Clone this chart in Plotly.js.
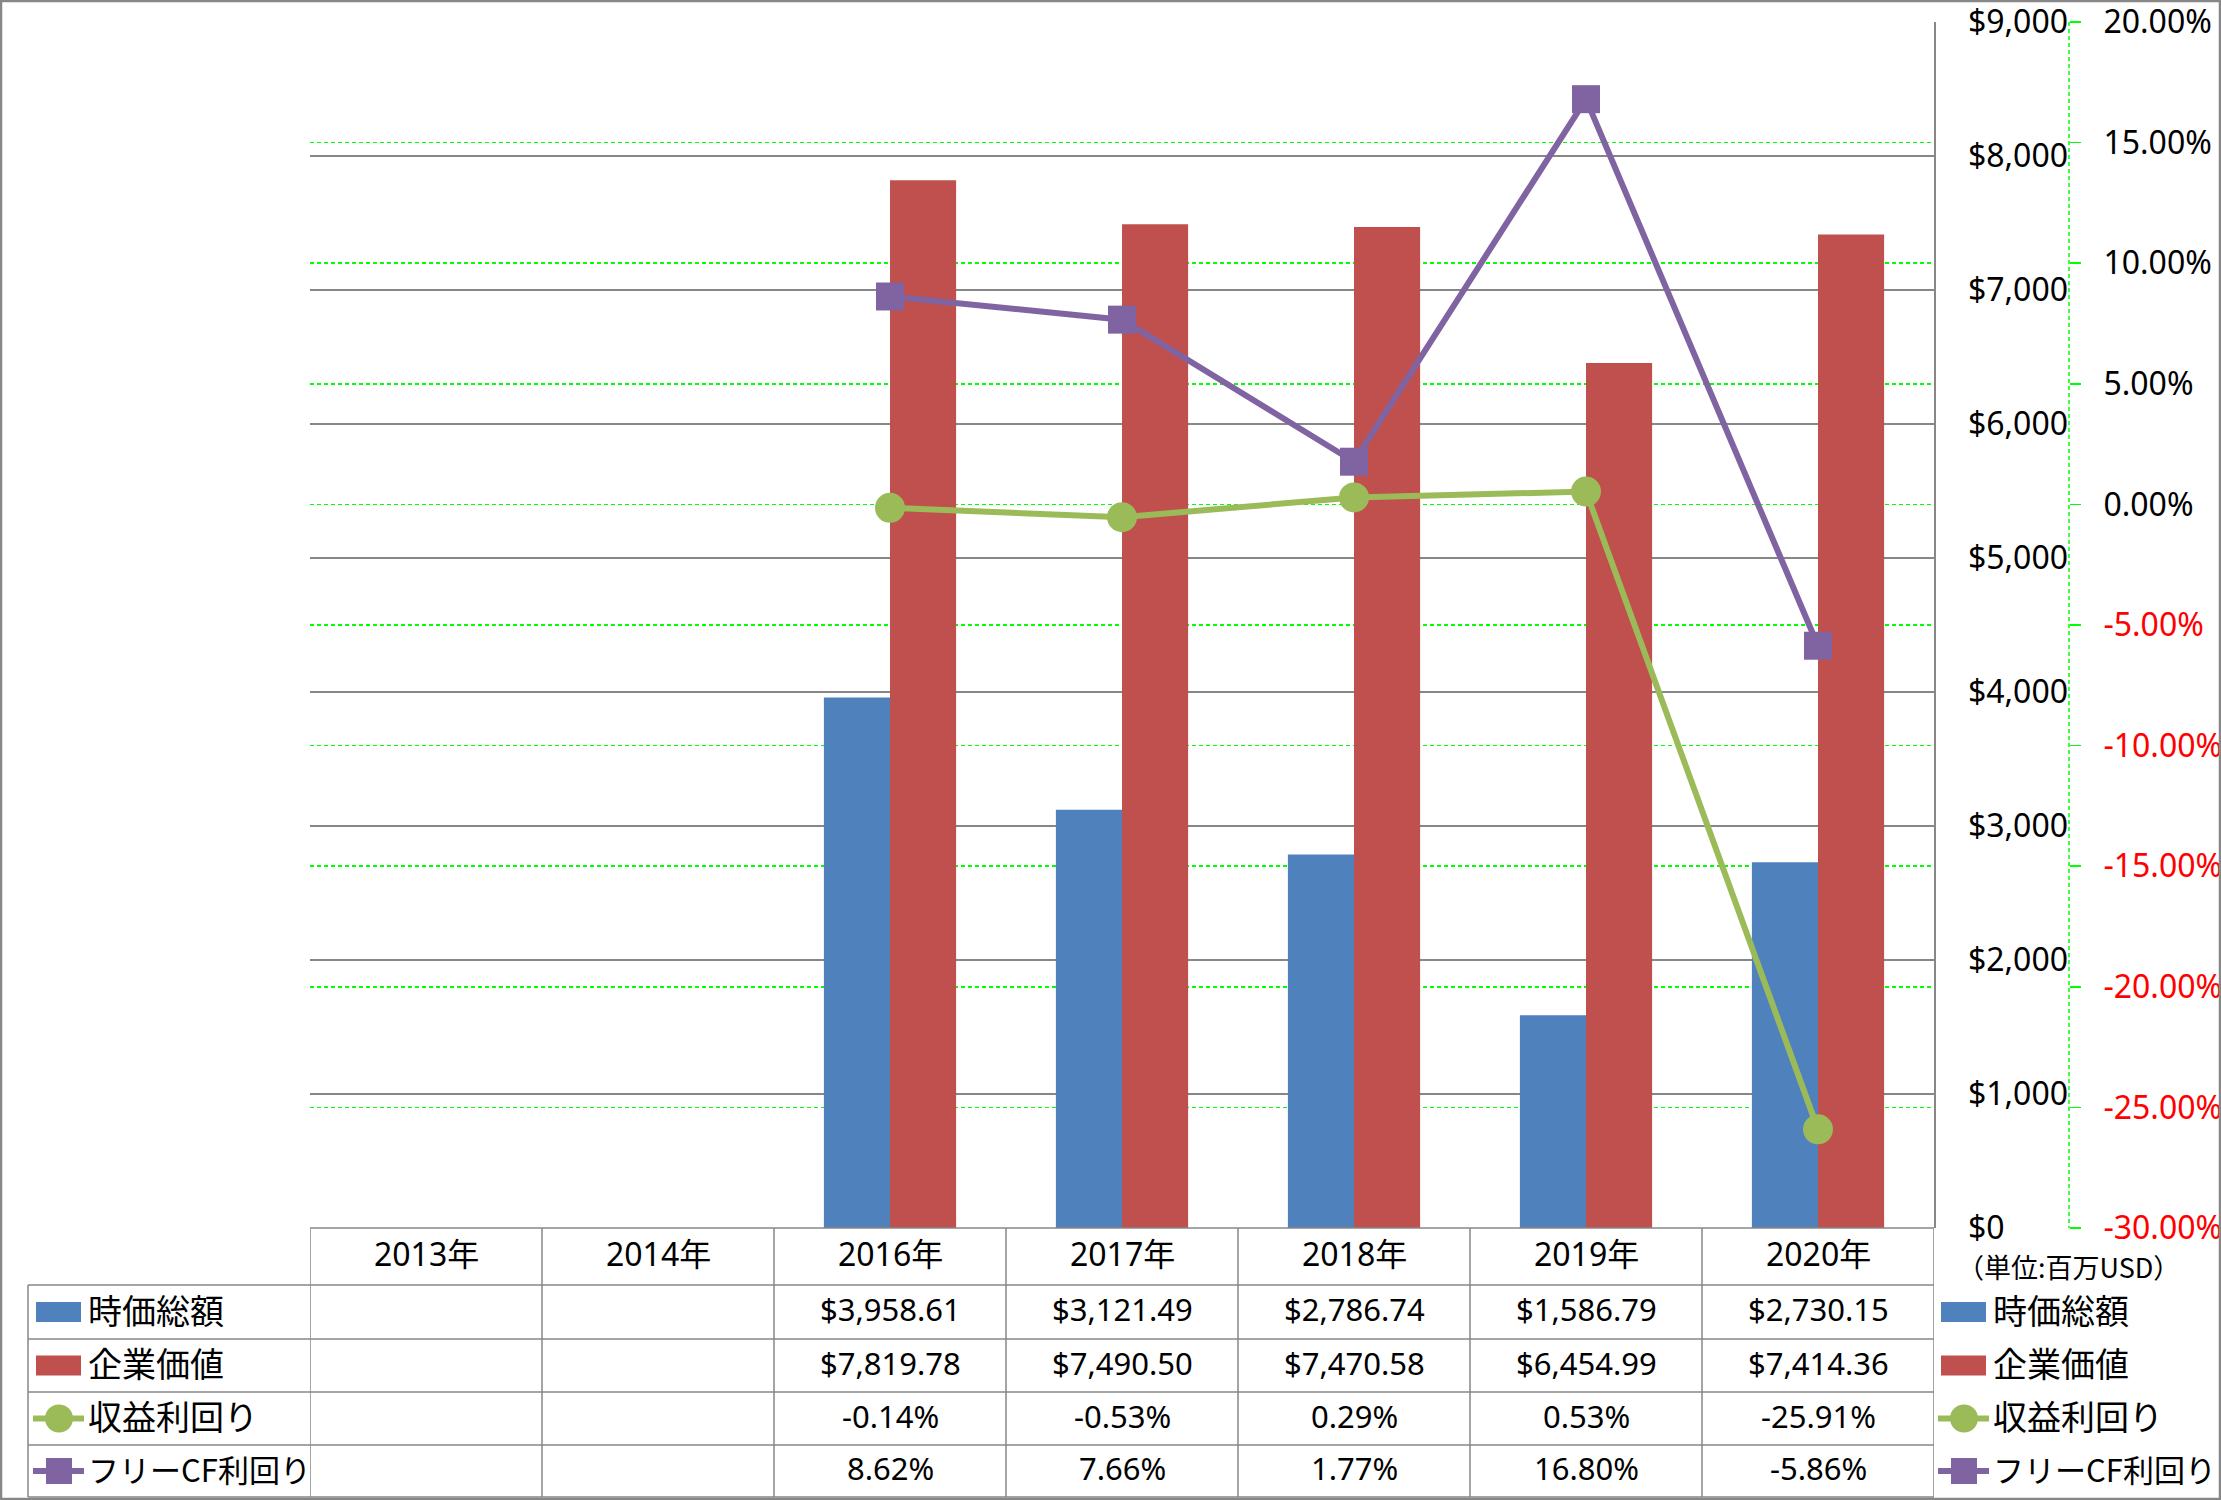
<!DOCTYPE html>
<html>
<head>
<meta charset="utf-8">
<script src="https://cdn.plot.ly/plotly-3.0.1.min.js"></script>
<style>
html,body{margin:0;padding:0;background:#fff;}
#chart{width:2221px;height:1500px;}
</style>
</head>
<body>
<div id="chart"></div>
<script>
// ---- data ----
const categories = ['2013年','2014年','2016年','2017年','2018年','2019年','2020年'];
const marketCap = [null, null, 3958.61, 3121.49, 2786.74, 1586.79, 2730.15];
const enterpriseValue = [null, null, 7819.78, 7490.50, 7470.58, 6454.99, 7414.36];
const earningsYield = [null, null, -0.14, -0.53, 0.29, 0.53, -25.91];
const fcfYield = [null, null, 8.62, 7.66, 1.77, 16.80, -5.86];
const seriesNames = ['時価総額', '企業価値', '収益利回り', 'フリーCF利回り'];
const usdTicks = [0, 1000, 2000, 3000, 4000, 5000, 6000, 7000, 8000, 9000];
const pctTicks = [-30, -25, -20, -15, -10, -5, 0, 5, 10, 15, 20];
const unitLabel = '（単位:百万USD）';

// ---- styling ----
const W = 2221, H = 1500;
const colors = ['#4F81BD', '#C0504D', '#9BBB59', '#8064A2'];
const gray = '#878787';
const FONT = '"Noto Sans", "Noto Sans CJK JP", sans-serif';
const JFONT = '"Noto Sans CJK JP", "Noto Sans", sans-serif';
const px = x => x / W;
const py = y => 1 - y / H;

const plotL = 310, plotR = 1934, plotT = 22, plotB = 1228;
const rowEdges = [1228, 1285, 1339, 1392, 1445, 1497];
const textLift = 3;
const headerCenter = (rowEdges[0] + rowEdges[1]) / 2 - textLift;
const rowCenters = rowEdges.slice(2).map((e, i) => (rowEdges[i + 1] + e) / 2);
const tableLeft = 28;
const y2AxisX = 2069;

const fmtUSD = v => '$' + v.toLocaleString('en-US', {minimumFractionDigits: 2, maximumFractionDigits: 2});
const fmtPct = v => v.toFixed(2) + '%';

const traces = [
  {type: 'bar', name: seriesNames[0], x: categories, y: marketCap, marker: {color: colors[0]}, yaxis: 'y'},
  {type: 'bar', name: seriesNames[1], x: categories, y: enterpriseValue, marker: {color: colors[1]}, yaxis: 'y'},
  {type: 'scatter', mode: 'lines+markers', name: seriesNames[2], x: categories, y: earningsYield, yaxis: 'y2',
   line: {color: colors[2], width: 6}, marker: {color: colors[2], size: 30, symbol: 'circle'}},
  {type: 'scatter', mode: 'lines+markers', name: seriesNames[3], x: categories, y: fcfYield, yaxis: 'y2',
   line: {color: colors[3], width: 6}, marker: {color: colors[3], size: 28, symbol: 'square'}}
];

const shapes = [];
const annotations = [];

// outer frame
shapes.push({type: 'rect', xref: 'paper', yref: 'paper', x0: px(1), x1: px(W - 1), y0: py(1), y1: py(H - 1),
  line: {color: gray, width: 2.5}, layer: 'above'});

// y2 dashed axis line
shapes.push({type: 'line', xref: 'paper', yref: 'paper', x0: px(y2AxisX), x1: px(y2AxisX), y0: py(plotT), y1: py(plotB),
  line: {color: '#00FF00', width: 1.5, dash: '4px,3px'}});

// table horizontal lines
shapes.push({type: 'line', xref: 'paper', yref: 'paper', x0: px(plotL), x1: px(plotR), y0: py(rowEdges[0]), y1: py(rowEdges[0]),
  line: {color: gray, width: 1.5}, layer: 'above'});
for (let r = 1; r < rowEdges.length; r++) {
  shapes.push({type: 'line', xref: 'paper', yref: 'paper', x0: px(tableLeft), x1: px(plotR), y0: py(rowEdges[r]), y1: py(rowEdges[r]),
    line: {color: gray, width: 1.5}, layer: 'above'});
}
// table vertical lines (category boundaries on the x axis)
for (let i = 0; i <= categories.length; i++) {
  shapes.push({type: 'line', xref: 'x', yref: 'paper', x0: i - 0.5, x1: i - 0.5, y0: py(rowEdges[0]), y1: py(rowEdges[rowEdges.length - 1]),
    line: {color: gray, width: 1.5}, layer: 'above'});
}
shapes.push({type: 'line', xref: 'paper', yref: 'paper', x0: px(tableLeft), x1: px(tableLeft), y0: py(rowEdges[1]), y1: py(rowEdges[rowEdges.length - 1]),
  line: {color: gray, width: 1.5}, layer: 'above'});

// header row
categories.forEach(c => {
  annotations.push({xref: 'x', yref: 'paper', x: c, y: py(headerCenter), text: c, showarrow: false,
    xanchor: 'center', yanchor: 'middle', font: {family: FONT, size: 32, color: '#000'}});
});

// table values
const rowsData = [
  marketCap.map(v => v == null ? '' : fmtUSD(v)),
  enterpriseValue.map(v => v == null ? '' : fmtUSD(v)),
  earningsYield.map(v => v == null ? '' : fmtPct(v)),
  fcfYield.map(v => v == null ? '' : fmtPct(v))
];
rowsData.forEach((row, r) => {
  row.forEach((t, i) => {
    if (!t) return;
    annotations.push({xref: 'x', yref: 'paper', x: categories[i], y: py(rowCenters[r] - textLift), text: t, showarrow: false,
      xanchor: 'center', yanchor: 'middle', font: {family: FONT, size: 31, color: '#000'}});
  });
});

// legend keys: in table row headers and at the right
function addKey(idx, keyLeft, textX, cy) {
  const c = colors[idx];
  if (idx < 2) {
    shapes.push({type: 'rect', xref: 'paper', yref: 'paper', x0: px(keyLeft + 3), x1: px(keyLeft + 48), y0: py(cy - 10), y1: py(cy + 10),
      fillcolor: c, line: {width: 0}, layer: 'above'});
  } else {
    shapes.push({type: 'line', xref: 'paper', yref: 'paper', x0: px(keyLeft), x1: px(keyLeft + 51), y0: py(cy), y1: py(cy),
      line: {color: c, width: 6}, layer: 'above'});
    const cx = keyLeft + 26;
    const r = idx === 2 ? 14 : 13;
    shapes.push({type: idx === 2 ? 'circle' : 'rect', xref: 'paper', yref: 'paper', x0: px(cx - r), x1: px(cx + r), y0: py(cy - r), y1: py(cy + r),
      fillcolor: c, line: {width: 0}, layer: 'above'});
  }
  const size = seriesNames[idx].length > 6 ? 31 : 34;
  annotations.push({xref: 'paper', yref: 'paper', x: px(textX), y: py(cy - textLift), text: seriesNames[idx], showarrow: false,
    xanchor: 'left', yanchor: 'middle', font: {family: JFONT, size: size, color: '#000'}});
}
seriesNames.forEach((n, i) => {
  addKey(i, 33, 86, rowCenters[i]);
  addKey(i, 1938, 1991, rowCenters[i]);
});

// unit label
annotations.push({xref: 'paper', yref: 'paper', x: px(1955), y: py(1266), text: unitLabel, showarrow: false,
  xanchor: 'left', yanchor: 'middle', font: {family: JFONT, size: 27, color: '#000'}});

const layout = {
  width: W, height: H,
  margin: {l: 0, r: 0, t: 0, b: 0},
  paper_bgcolor: '#fff', plot_bgcolor: 'rgba(0,0,0,0)',
  showlegend: false,
  hovermode: false,
  barmode: 'group', bargap: 0.43, bargroupgap: 0,
  font: {family: FONT, size: 31, color: '#000'},
  xaxis: {type: 'category', domain: [px(plotL), px(plotR)], range: [-0.5, categories.length - 0.5],
    showticklabels: false, showgrid: false, zeroline: false, showline: false, ticks: ''},
  yaxis: {domain: [py(plotB), py(plotT)], range: [0, 9000], side: 'right', anchor: 'x',
    tickvals: usdTicks, ticktext: usdTicks.map(v => '$' + v.toLocaleString('en-US')),
    showgrid: true, gridcolor: gray, gridwidth: 1.5, zeroline: false,
    showline: true, linecolor: gray, linewidth: 1.5, ticklabeloverflow: 'allow',
    ticks: '', ticklabelstandoff: 26, tickfont: {family: FONT, size: 32, color: '#000'}},
  yaxis2: {overlaying: 'y', anchor: 'free', position: px(y2AxisX), side: 'right', range: [-30, 20],
    tickvals: pctTicks,
    ticktext: pctTicks.map(v => v < 0 ? '<span style="color:#FF0000">' + v.toFixed(2) + '%</span>' : v.toFixed(2) + '%'),
    showgrid: true, gridcolor: '#00FF00', gridwidth: 1.5, griddash: '4px,3px', zeroline: false, showline: false,
    ticks: 'outside', ticklen: 11, tickcolor: '#00FF00', tickwidth: 1.5, ticklabelstandoff: 16, ticklabeloverflow: 'allow',
    tickfont: {family: FONT, size: 32, color: '#000'}},
  shapes: shapes,
  annotations: annotations
};

Plotly.newPlot('chart', traces, layout, {displayModeBar: false, staticPlot: true});
</script>
</body>
</html>
